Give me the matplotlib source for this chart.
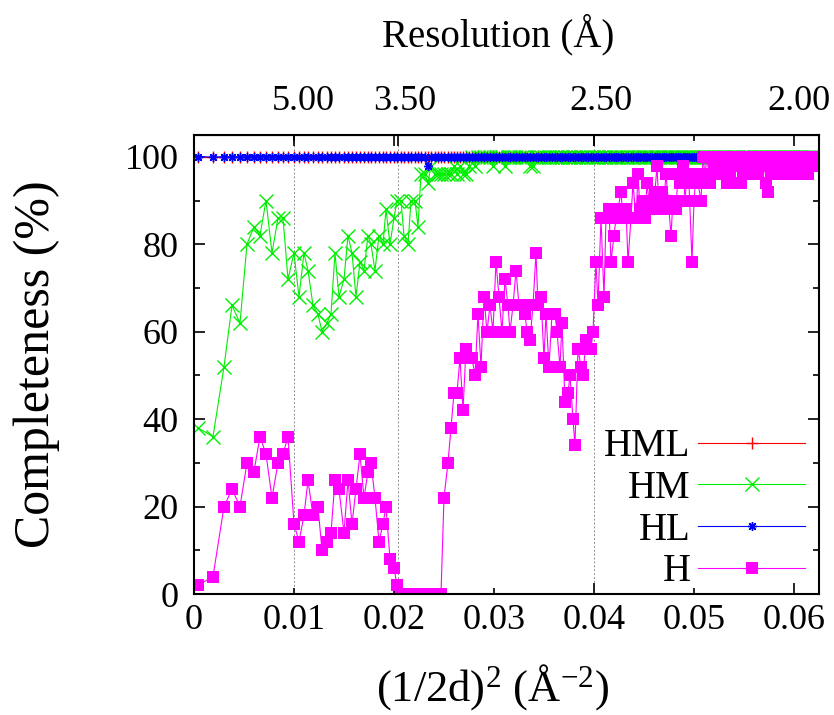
import matplotlib
matplotlib.use("Agg")
import matplotlib.pyplot as plt
from matplotlib.ticker import FixedLocator, FixedFormatter
from matplotlib.transforms import ScaledTranslation

plt.rcParams['font.family'] = ['Liberation Serif', 'DejaVu Serif']
plt.rcParams['mathtext.fontset'] = 'custom'
plt.rcParams['mathtext.rm'] = 'Liberation Serif'
plt.rcParams['mathtext.it'] = 'Liberation Serif:italic'

# (1/2d)^2 at the centre of each resolution shell, in A^-2
s2 = [
    0.0004, 0.0019, 0.0030, 0.0038, 0.0046, 0.0053, 0.0060, 0.0066, 0.0072, 0.0078,
    0.0084, 0.0089, 0.0094, 0.0100, 0.0105, 0.0110, 0.0114, 0.0119, 0.0124, 0.0128,
    0.0133, 0.0137, 0.0141, 0.0145, 0.0150, 0.0154, 0.0158, 0.0162, 0.0166, 0.0170,
    0.0174, 0.0177, 0.0181, 0.0185, 0.0189, 0.0192, 0.0196, 0.0200, 0.0203, 0.0207,
    0.0210, 0.0214, 0.0217, 0.0221, 0.0224, 0.0227, 0.0231, 0.0234, 0.0237, 0.0241,
    0.0244, 0.0247, 0.0250, 0.0254, 0.0257, 0.0260, 0.0263, 0.0266, 0.0269, 0.0272,
    0.0275, 0.0278, 0.0281, 0.0284, 0.0287, 0.0290, 0.0293, 0.0296, 0.0299, 0.0302,
    0.0305, 0.0308, 0.0311, 0.0314, 0.0316, 0.0319, 0.0322, 0.0325, 0.0328, 0.0331,
    0.0333, 0.0336, 0.0339, 0.0342, 0.0344, 0.0347, 0.0350, 0.0352, 0.0355, 0.0358,
    0.0361, 0.0363, 0.0366, 0.0368, 0.0371, 0.0374, 0.0376, 0.0379, 0.0381, 0.0384,
    0.0387, 0.0389, 0.0392, 0.0394, 0.0397, 0.0399, 0.0402, 0.0404, 0.0407, 0.0410,
    0.0412, 0.0415, 0.0417, 0.0420, 0.0422, 0.0424, 0.0427, 0.0429, 0.0432, 0.0434,
    0.0437, 0.0439, 0.0442, 0.0444, 0.0446, 0.0449, 0.0451, 0.0453, 0.0456, 0.0458,
    0.0461, 0.0463, 0.0465, 0.0468, 0.0470, 0.0472, 0.0475, 0.0477, 0.0479, 0.0482,
    0.0484, 0.0486, 0.0489, 0.0491, 0.0493, 0.0495, 0.0498, 0.0500, 0.0502, 0.0504,
    0.0507, 0.0509, 0.0511, 0.0513, 0.0516, 0.0518, 0.0520, 0.0522, 0.0525, 0.0527,
    0.0529, 0.0531, 0.0533, 0.0536, 0.0538, 0.0540, 0.0542, 0.0544, 0.0547, 0.0549,
    0.0551, 0.0553, 0.0555, 0.0557, 0.0560, 0.0562, 0.0564, 0.0566, 0.0568, 0.0570,
    0.0572, 0.0574, 0.0577, 0.0579, 0.0581, 0.0583, 0.0585, 0.0587, 0.0589, 0.0591,
    0.0593, 0.0595, 0.0597, 0.0599, 0.0602, 0.0604, 0.0606, 0.0608, 0.0610, 0.0612,
    0.0614, 0.0616, 0.0618, 0.0620,
]

# completeness (%) per shell
hml = [
    100, 100, 100, 100, 100, 100, 100, 100, 100, 100, 100, 100, 100, 100, 100, 100, 100, 100, 100, 100,
    100, 100, 100, 100, 100, 100, 100, 100, 100, 100, 100, 100, 100, 100, 100, 100, 100, 100, 100, 100,
    100, 100, 100, 100, 100, 100, 100, 100, 100, 100, 100, 100, 100, 100, 100, 100, 100, 100, 100, 100,
    100, 100, 100, 100, 100, 100, 100, 100, 100, 100, 100, 100, 100, 100, 100, 100, 100, 100, 100, 100,
    100, 100, 100, 100, 100, 100, 100, 100, 100, 100, 100, 100, 100, 100, 100, 100, 100, 100, 100, 100,
    100, 100, 100, 100, 100, 100, 100, 100, 100, 100, 100, 100, 100, 100, 100, 100, 100, 100, 100, 100,
    100, 100, 100, 100, 100, 100, 100, 100, 100, 100, 100, 100, 100, 100, 100, 100, 100, 100, 100, 100,
    100, 100, 100, 100, 100, 100, 100, 100, 100, 100, 100, 100, 100, 100, 100, 100, 100, 100, 100, 100,
    100, 100, 100, 100, 100, 100, 100, 100, 100, 100, 100, 100, 100, 100, 100, 100, 100, 100, 100, 100,
    100, 100, 100, 100, 100, 100, 100, 100, 100, 100, 100, 100, 100, 100, 100, 100, 100, 100, 100, 100,
    100, 100, 100, 100,
]

hm = [
    38, 36, 52, 66, 62, 80, 84, 82, 90, 78,
    86, 86, 72, 78, 68, 78, 74, 66, 64, 60,
    62, 64, 78, 68, 72, 82, 78, 68, 76, 74,
    82, 80, 74, 82, 80, 88, 80, 86, 90, 90,
    82, 80, 90, 90, 84, 96, 96, 94, 98, 96,
    96, 96, 96, 96, 96, 98, 96, 98, 96, 96,
    98, 100, 98, 100, 100, 100, 100, 100, 98, 100,
    100, 100, 98, 100, 100, 100, 100, 100, 100, 100,
    100, 98, 98, 100, 100, 100, 100, 100, 100, 100,
    100, 100, 100, 100, 100, 100, 100, 100, 100, 100,
    100, 100, 100, 100, 100, 100, 100, 100, 100, 100,
    100, 100, 100, 100, 100, 100, 100, 100, 100, 100,
    100, 100, 100, 100, 100, 100, 100, 100, 100, 100,
    100, 100, 100, 100, 100, 100, 100, 100, 100, 100,
    100, 100, 100, 100, 100, 100, 100, 100, 100, 100,
    100, 100, 100, 100, 100, 100, 100, 100, 100, 100,
    100, 100, 100, 100, 100, 100, 100, 100, 100, 100,
    100, 100, 100, 100, 100, 100, 100, 100, 100, 100,
    100, 100, 100, 100, 100, 100, 100, 100, 100, 100,
    100, 100, 100, 100, 100, 100, 100, 100, 100, 100,
    100, 100, 100, 100,
]

hl = [
    100, 100, 100, 100, 100, 100, 100, 100, 100, 100, 100, 100, 100, 100, 100, 100, 100, 100, 100, 100,
    100, 100, 100, 100, 100, 100, 100, 100, 100, 100, 100, 100, 100, 100, 100, 100, 100, 100, 100, 100,
    100, 100, 100, 100, 100, 100, 100, 98, 100, 100, 100, 100, 100, 100, 100, 100, 100, 100, 100, 100,
    100, 100, 100, 100, 100, 100, 100, 100, 100, 100, 100, 100, 100, 100, 100, 100, 100, 100, 100, 100,
    100, 100, 100, 100, 100, 100, 100, 100, 100, 100, 100, 100, 100, 100, 100, 100, 100, 100, 100, 100,
    100, 100, 100, 100, 100, 100, 100, 100, 100, 100, 100, 100, 100, 100, 100, 100, 100, 100, 100, 100,
    100, 100, 100, 100, 100, 100, 100, 100, 100, 100, 100, 100, 100, 100, 100, 100, 100, 100, 100, 100,
    100, 100, 100, 100, 100, 100, 100, 100, 100, 100, 100, 100, 100, 100, 100, 100, 100, 100, 100, 100,
    100, 100, 100, 100, 100, 100, 100, 100, 100, 100, 100, 100, 100, 100, 100, 100, 100, 100, 100, 100,
    100, 100, 100, 100, 100, 100, 100, 100, 100, 100, 100, 100, 100, 100, 100, 100, 100, 100, 100, 100,
    100, 100, 100, 100,
]

h = [
    2, 4, 20, 24, 20, 30, 28, 36, 32, 22,
    30, 32, 36, 16, 12, 18, 26, 18, 20, 10,
    12, 14, 26, 24, 14, 26, 16, 24, 32, 22,
    28, 30, 22, 12, 16, 20, 8, 6, 2, 0,
    0, 0, 0, 0, 0, 0, 0, 0, 0, 0,
    0, 0, 22, 30, 38, 46, 46, 54, 42, 56,
    54, 54, 50, 64, 52, 68, 60, 66, 60, 76,
    68, 60, 72, 66, 60, 66, 74, 66, 66, 64,
    60, 58, 66, 78, 66, 68, 54, 64, 52, 64,
    64, 60, 52, 62, 44, 46, 50, 40, 34, 56,
    52, 50, 58, 56, 56, 60, 76, 66, 86, 68,
    86, 88, 76, 82, 86, 88, 92, 86, 88, 76,
    86, 94, 86, 96, 88, 90, 86, 94, 88, 90,
    92, 98, 88, 92, 90, 96, 88, 82, 90, 88,
    96, 94, 98, 90, 96, 94, 76, 90, 96, 94,
    90, 100, 96, 100, 94, 96, 98, 100, 96, 100,
    96, 98, 94, 96, 100, 94, 98, 100, 94, 96,
    100, 98, 100, 96, 100, 98, 96, 100, 98, 100,
    94, 92, 96, 98, 100, 96, 100, 98, 100, 100,
    96, 100, 98, 100, 96, 100, 100, 98, 96, 100,
    96, 100, 98, 100,
]

# resolution marks on the top axis (d in A)
res_d = [5.00, 3.50, 2.50, 2.00]
res_labels = ['5.00', '3.50', '2.50', '2.00']
res_pos = [(1.0 / (2.0 * d)) ** 2 for d in res_d]
# horizontal nudge of each resolution label, in inches
res_label_nudge = [0.09, 0.07, 0.07, -0.20]

x_major = [0.0, 0.02, 0.04, 0.06]
x_major_labels = ['0', '0.02', '0.04', '0.06']
x_minor = [0.01, 0.03, 0.05]
x_minor_labels = ['0.01', '0.03', '0.05']
y_major = [0, 20, 40, 60, 80, 100]
y_minor = [10, 30, 50, 70, 90]

TICK_FS = 26
LABEL_FS = 28

fig = plt.figure(figsize=(8.34, 7.15), dpi=100)
ax = fig.add_axes([0.2326, 0.1692, 0.7494, 0.642])

for p in res_pos:
    ax.axvline(p, color='#8c8c8c', lw=0.7, ls=(0, (2, 2)), zorder=0)

ax.plot(s2, hml, color='#ff0000', lw=0.8, marker='+', ms=9, mew=1.0, label='HML')
ax.plot(s2, hm, color='#00ee00', lw=0.8, marker='x', ms=9.5, mew=1.0, label='HM')
ax.plot(s2, hl, color='#0000ff', lw=0.8, marker=(8, 2, 0), ms=6.5, mew=1.0, label='HL')
ax.plot(s2, h, color='#ff00ff', lw=0.8, marker='s', ms=8.5, mew=0, label='H')

ax.set_xlim(0, 0.0625)
ax.set_ylim(0, 105)

ax.xaxis.set_major_locator(FixedLocator(x_major))
ax.xaxis.set_major_formatter(FixedFormatter(x_major_labels))
ax.xaxis.set_minor_locator(FixedLocator(x_minor))
ax.xaxis.set_minor_formatter(FixedFormatter(x_minor_labels))
ax.yaxis.set_major_locator(FixedLocator(y_major))
ax.yaxis.set_minor_locator(FixedLocator(y_minor))

ax.tick_params(axis='x', which='both', direction='in', top=True, bottom=True,
               labelsize=TICK_FS, pad=7, width=1.2)
ax.tick_params(axis='x', which='major', length=8)
ax.tick_params(axis='x', which='minor', length=4)
ax.tick_params(axis='y', which='both', direction='in', left=True, right=True,
               labelsize=TICK_FS, pad=11, width=1.2)
ax.tick_params(axis='y', which='major', length=8)
ax.tick_params(axis='y', which='minor', length=4)
for sp in ax.spines.values():
    sp.set_linewidth(1.5)

ax.set_xlabel(r'(1/2d)$^{2}$ (Å$^{-2}$)', fontsize=32)
ax.xaxis.set_label_coords(0.478, -0.148)
ax.set_ylabel('Completeness (%)', fontsize=36)
ax.yaxis.set_label_coords(-0.215, 0.5)

sec = ax.secondary_xaxis('top')
sec.set_xticks(res_pos, labels=res_labels)
sec.tick_params(direction='in', length=8, width=1.2, labelsize=TICK_FS, pad=12)
sec.set_xlabel('Resolution (Å)', fontsize=LABEL_FS, labelpad=28)
sec.xaxis.label.set_x(0.487)
for lbl, dx in zip(sec.get_xticklabels(), res_label_nudge):
    lbl.set_transform(lbl.get_transform() + ScaledTranslation(dx, 0, fig.dpi_scale_trans))

ax.legend(loc='lower right', bbox_to_anchor=(0.978, 0.008), markerfirst=False,
          frameon=False, fontsize=LABEL_FS, handlelength=2.75, handletextpad=0.2,
          labelspacing=0.12, borderaxespad=0, borderpad=0, numpoints=1)

fig.savefig('out.png', dpi=100)
